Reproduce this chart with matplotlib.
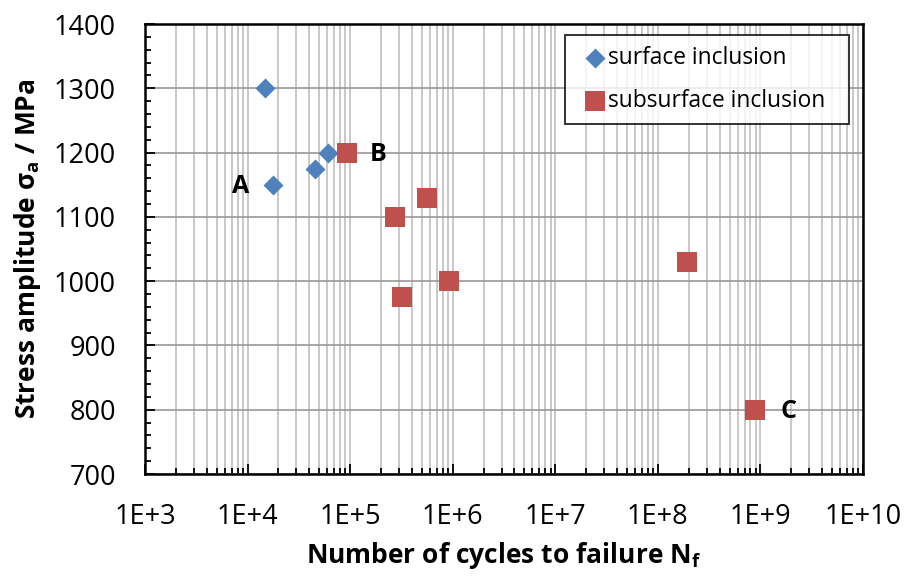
import matplotlib
matplotlib.use("Agg")
import matplotlib.pyplot as plt
from matplotlib.ticker import FixedLocator, MultipleLocator, FuncFormatter, NullFormatter
import numpy as np

plt.rcParams['font.family'] = ['Open Sans', 'DejaVu Sans']
plt.rcParams['mathtext.fontset'] = 'custom'
plt.rcParams['mathtext.rm'] = 'Open Sans'
plt.rcParams['mathtext.bf'] = 'Open Sans:bold'
plt.rcParams['mathtext.it'] = 'Open Sans:italic'

# data
surface_n = [1.48e4, 1.78e4, 4.54e4, 6.04e4]
surface_s = [1300, 1150, 1175, 1200]
subsurface_n = [9.25e4, 2.75e5, 5.57e5, 3.23e5, 9.2e5, 1.91e8, 8.8e8]
subsurface_s = [1200, 1100, 1130, 975, 1000, 1030, 800]

# labelled points
labels = ["A", "B", "C"]
label_n = [1.78e4, 9.25e4, 8.8e8]
label_s = [1150, 1200, 800]
label_dx = [-23.5, 22.5, 24]  # offset in points

decades = [3, 4, 5, 6, 7, 8, 9, 10]

BLUE = '#4F81BD'
RED = '#C0504D'

fig = plt.figure(figsize=(9.06, 5.79), dpi=100)
ax = fig.add_axes([0.160, 0.1813, 0.7925, 0.7772])

ax.scatter(surface_n, surface_s, marker='D', s=10.2 ** 2, color=BLUE,
           linewidths=0, label='surface inclusion', zorder=3)
ax.scatter(subsurface_n, subsurface_s, marker='s', s=15 ** 2, color=RED,
           linewidths=0, label='subsurface inclusion', zorder=3)

for lab, n, s, dx in zip(labels, label_n, label_s, label_dx):
    ax.annotate(lab, (n, s), xytext=(dx, -1.2), textcoords='offset points',
                ha='center', va='center', fontsize=18, fontweight='bold')

ax.set_xscale('log')
ax.set_xlim(10.0 ** decades[0], 10.0 ** decades[-1])
ax.set_ylim(700, 1400)

major = [10.0 ** d for d in decades]
minor = [m * 10.0 ** d for d in decades[:-1] for m in range(2, 10)]
ax.xaxis.set_major_locator(FixedLocator(major))
ax.xaxis.set_minor_locator(FixedLocator(minor))
ax.xaxis.set_major_formatter(FuncFormatter(lambda v, p: "1E+%d" % round(np.log10(v))))
ax.xaxis.set_minor_formatter(NullFormatter())
ax.yaxis.set_major_locator(MultipleLocator(100))
ax.yaxis.set_minor_locator(MultipleLocator(20))

ax.grid(True, axis='x', which='both', color='#BFBFBF', lw=1.2)
ax.grid(True, axis='y', which='major', color='#989898', lw=1.2)
ax.set_axisbelow(True)

for sp in ax.spines.values():
    sp.set_linewidth(1.8)
    sp.set_color('black')

ax.tick_params(which='both', direction='in', top=False, right=False, width=1.3, colors='black')
ax.tick_params(which='major', length=7)
ax.tick_params(which='minor', length=4.5)
ax.tick_params(axis='x', which='major', pad=21, labelsize=19.5)
ax.tick_params(axis='y', which='major', pad=21, labelsize=19.5)

ax.set_xlabel(r"Number of cycles to failure N$_\mathbf{f}$", fontsize=19,
              fontweight='bold', labelpad=6)
ax.set_ylabel(r"Stress amplitude σ$_\mathbf{a}$ / MPa", fontsize=19,
              fontweight='bold', labelpad=8)

leg = ax.legend(loc='upper left', bbox_to_anchor=(0.585, 0.5, 0.3955, 0.4756),
                mode='expand', borderaxespad=0, fancybox=False, fontsize=16.4,
                frameon=True, borderpad=0.48, labelspacing=0.82,
                handlelength=1.67, handletextpad=-0.26, scatterpoints=1)
leg.get_frame().set_edgecolor('black')
leg.get_frame().set_linewidth(1.4)

fig.savefig('out.png', dpi=100)
